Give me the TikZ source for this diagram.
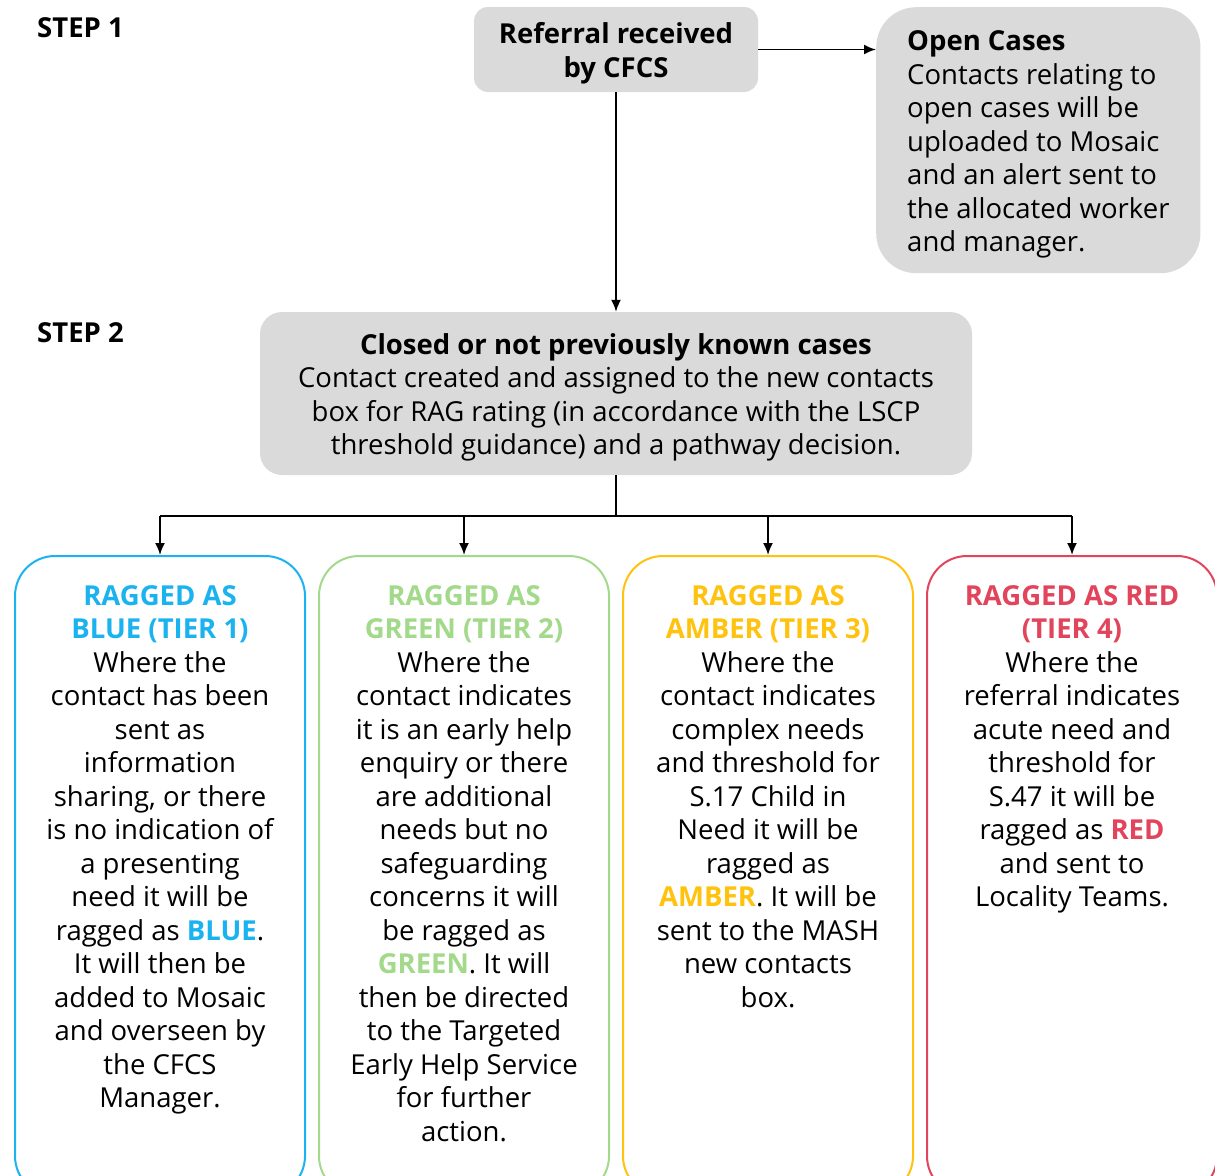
\documentclass[tikz,border=0pt]{standalone}
\usepackage{fontspec}
\setmainfont{Open Sans}
\usetikzlibrary{positioning,arrows.meta}

\definecolor{ragblue}{HTML}{1BB3EF}
\definecolor{raggreen}{HTML}{A3D98A}
\definecolor{ragamber}{HTML}{FFC20E}
\definecolor{ragred}{HTML}{E2445C}
\definecolor{boxgrey}{HTML}{DADADA}

\newcommand{\rag}[2]{\textcolor{#1}{\bfseries #2}}
\newcommand{\boxstrut}{\rule{0pt}{29pt}}

\tikzset{
  greybox/.style={fill=boxgrey, rounded corners=14pt, inner sep=0pt, align=center,
    font=\fontsize{27.5}{33.5}\selectfont},
  ragbox/.style={draw=#1, line width=2pt, rounded corners=40pt, minimum width=290pt,
    minimum height=640pt, anchor=north, inner sep=0pt},
  ragtext/.style={anchor=north, align=center, inner sep=0pt,
    font=\fontsize{27.5}{33.5}\selectfont},
  steplabel/.style={anchor=west, inner sep=0pt, font=\fontsize{27.5}{33.5}\selectfont\bfseries},
  link/.style={line width=1.8pt, -{Latex[length=12pt,width=10pt]}}
}

\begin{document}
\begin{tikzpicture}[x=1pt, y=-1pt]
    \clip (0,0) rectangle (1215,1175);

    % step labels
    \node[steplabel] (step1) at (37,28) {STEP 1};
    \node[steplabel] (step2) at (37,333) {STEP 2};

    % step 1
    \node[greybox, minimum width=284pt, minimum height=85pt] (referral) at (616,49.5)
        {\boxstrut\bfseries Referral received\\\bfseries by CFCS};
    \node[greybox, rounded corners=40pt, anchor=north west, minimum height=266pt,
          align=left, inner xsep=31pt] (open) at (876,7)
        {\boxstrut\textbf{Open Cases}\\Contacts relating to\\open cases will be\\uploaded to Mosaic\\and an alert sent to\\the allocated worker\\and manager.};

    % step 2
    \node[greybox, rounded corners=22pt, minimum width=712pt, minimum height=163pt] (closed) at (616,393.5)
        {\boxstrut\textbf{Closed or not previously known cases}\\Contact created and assigned to the new contacts\\box for RAG rating (in accordance with the LSCP\\threshold guidance) and a pathway decision.};

    % rag boxes
    \node[ragbox=ragblue]  (blue)  at (160,555) {};
    \node[ragbox=raggreen] (green) at (464,555) {};
    \node[ragbox=ragamber] (amber) at (768,555) {};
    \node[ragbox=ragred]   (red)   at (1072,555) {};

    \node[ragtext] (bluetxt) at ([yshift=-30pt]blue.north)
        {\rag{ragblue}{RAGGED AS}\\\rag{ragblue}{BLUE (TIER 1)}\\Where the\\contact has been\\sent as\\information\\sharing, or there\\is no indication of\\a presenting\\need it will be\\ragged as \rag{ragblue}{BLUE}.\\It will then be\\added to Mosaic\\and overseen by\\the CFCS\\Manager.};
    \node[ragtext] (greentxt) at ([yshift=-30pt]green.north)
        {\rag{raggreen}{RAGGED AS}\\\rag{raggreen}{GREEN (TIER 2)}\\Where the\\contact indicates\\it is an early help\\enquiry or there\\are additional\\needs but no\\safeguarding\\concerns it will\\be ragged as\\\rag{raggreen}{GREEN}. It will\\then be directed\\to the Targeted\\Early Help Service\\for further\\action.};
    \node[ragtext] (ambertxt) at ([yshift=-30pt]amber.north)
        {\rag{ragamber}{RAGGED AS}\\\rag{ragamber}{AMBER (TIER 3)}\\Where the\\contact indicates\\complex needs\\and threshold for\\S.17 Child in\\Need it will be\\ragged as\\\rag{ragamber}{AMBER}. It will be\\sent to the MASH\\new contacts\\box.};
    \node[ragtext] (redtxt) at ([yshift=-30pt]red.north)
        {\rag{ragred}{RAGGED AS RED}\\\rag{ragred}{(TIER 4)}\\Where the\\referral indicates\\acute need and\\threshold for\\S.47 it will be\\ragged as \rag{ragred}{RED}\\and sent to\\Locality Teams.};

    % connectors
    \coordinate (branch) at (616,516);
    \draw[link] (referral.east) -- (referral.east -| open.west);
    \draw[link] (referral.south) -- (closed.north);
    \draw[line width=1.8pt] (closed.south) -- (branch);
    \draw[line width=1.8pt] (branch -| blue.north) -- (branch -| red.north);
    \foreach \b in {blue,green,amber,red}
        \draw[link] (branch -| \b.north) -- (\b.north);
\end{tikzpicture}
\end{document}
